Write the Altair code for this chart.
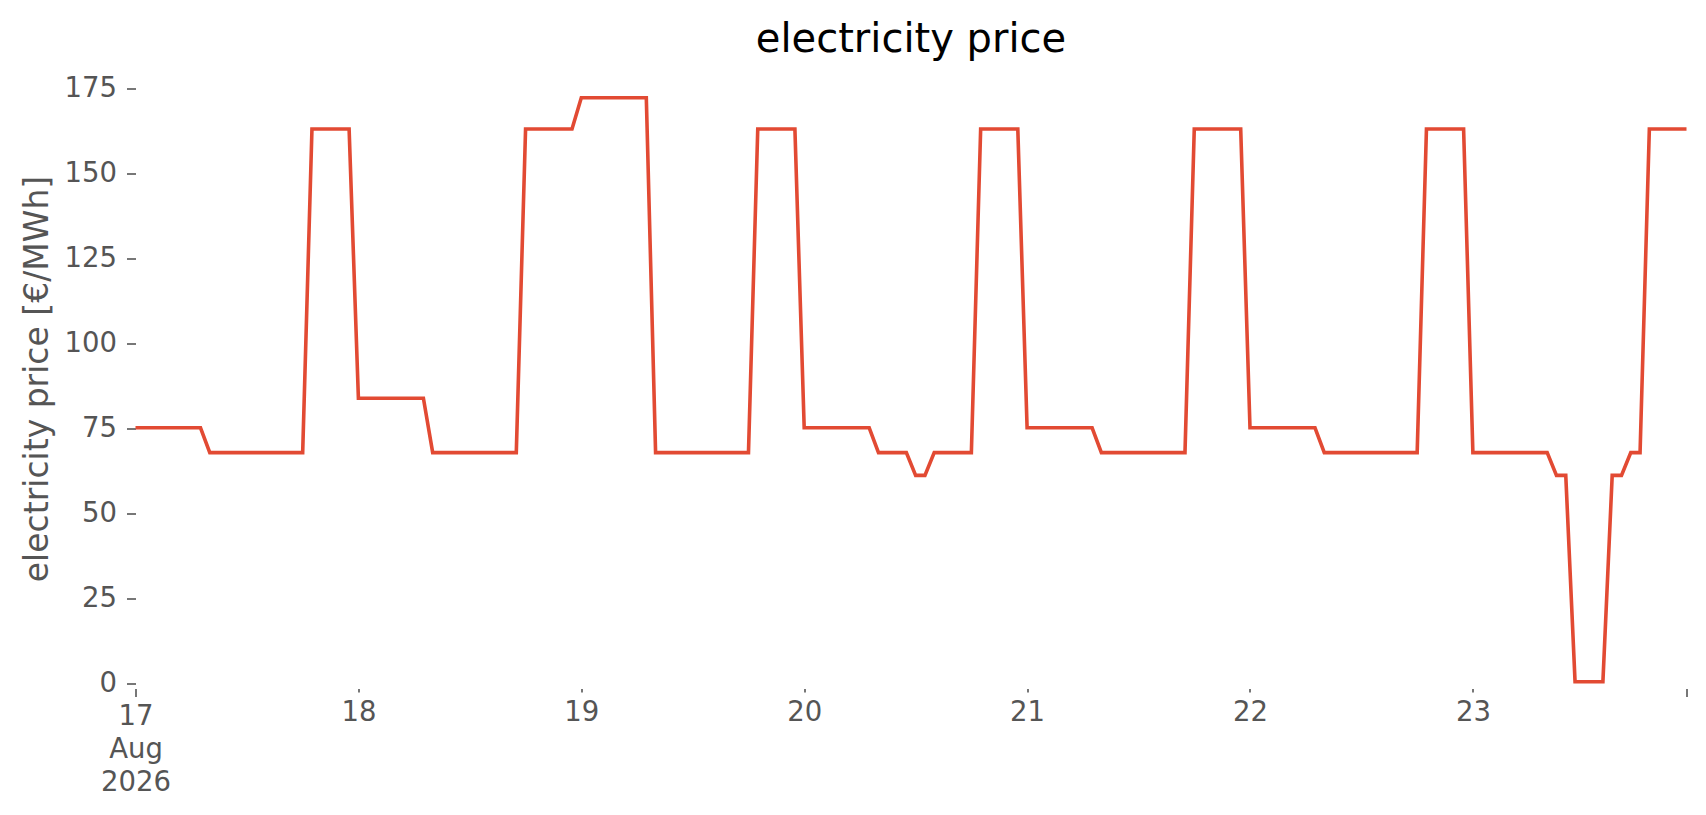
import altair as alt
import pandas as pd

# hourly electricity price, one list of 24 values per day (17..23 Aug 2026)
day17 = [75.3] * 8 + [68.0] * 11 + [163.2] * 5
day18 = [84.0] * 8 + [68.0] * 10 + [163.2] * 6
day19 = [172.4] * 8 + [68.0] * 11 + [163.2] * 5
day20 = [75.3] * 8 + [68.0] * 4 + [61.3] * 2 + [68.0] * 5 + [163.2] * 5
day21 = [75.3] * 8 + [68.0] * 10 + [163.2] * 6
day22 = [75.3] * 8 + [68.0] * 11 + [163.2] * 5
day23 = [68.0] * 9 + [61.3] * 2 + [0.6] * 4 + [61.3] * 2 + [68.0] * 2 + [163.2] * 5

days = ["2026-08-17", "2026-08-18", "2026-08-19", "2026-08-20",
        "2026-08-21", "2026-08-22", "2026-08-23"]
day_values = [day17, day18, day19, day20, day21, day22, day23]

rows = []
for d, vals in zip(days, day_values):
    for h, v in enumerate(vals):
        rows.append({"time": f"{d}T{h:02d}:00:00", "price": v})
df = pd.DataFrame(rows)

font = "DejaVu Sans"
grey = "#555555"

tick_values = [alt.DateTime(year=2026, month=8, date=d) for d in range(17, 24)]
tick_values.append(alt.DateTime(year=2026, month=8, date=23, hours=23))

x_axis = alt.Axis(
    values=tick_values,
    labelExpr=("hours(datum.value) != 0 ? '' : (date(datum.value) == 17 ? "
               "['17', 'Aug', '2026'] : '' + date(datum.value))"),
    title=None,
    domain=False,
    grid=False,
    tickColor=grey,
    tickWidth=1.6,
    tickSize={"condition": {"test": "date(datum.value) == 17 && hours(datum.value) == 0 || hours(datum.value) == 23",
                            "value": 8}, "value": 3.5},
    labelColor=grey,
    labelFont=font,
    labelFontSize=27.5,
    labelLineHeight=33,
    labelPadding=6,
    labelBaseline="top",
    labelAngle=0,
    labelFlush=False,
    labelOverlap=False,
)

y_axis = alt.Axis(
    values=[0, 25, 50, 75, 100, 125, 150, 175],
    title="electricity price [€/MWh]",
    titleFont=font,
    titleFontSize=33,
    titleFontWeight="normal",
    titleColor=grey,
    titlePadding=10,
    domain=False,
    grid=False,
    tickColor=grey,
    tickWidth=1.6,
    tickSize=9,
    labelColor=grey,
    labelFont=font,
    labelFontSize=27.5,
    labelPadding=10,
)

chart = (
    alt.Chart(df)
    .mark_line(color="#E24A33", strokeWidth=3.6, interpolate="linear")
    .encode(
        x=alt.X("time:T", axis=x_axis,
                scale=alt.Scale(domain=[alt.DateTime(year=2026, month=8, date=17, hours=0),
                                        alt.DateTime(year=2026, month=8, date=23, hours=23)],
                                nice=False)),
        y=alt.Y("price:Q", axis=y_axis,
                scale=alt.Scale(domain=[-1.4, 181], nice=False, zero=False)),
    )
    .properties(
        width=1551,
        height=620,
        title=alt.TitleParams(
            text="electricity price",
            font=font,
            fontSize=40,
            fontWeight="normal",
            color="black",
            anchor="middle",
            offset=9,
        ),
        autosize=alt.AutoSizeParams(type="none"),
        padding={"left": 127.5, "top": 60.5, "right": 10, "bottom": 120},
        background="white",
    )
    .configure_view(stroke=None)
)

chart.save("out.html", embed_options={"renderer": "svg", "actions": False})
